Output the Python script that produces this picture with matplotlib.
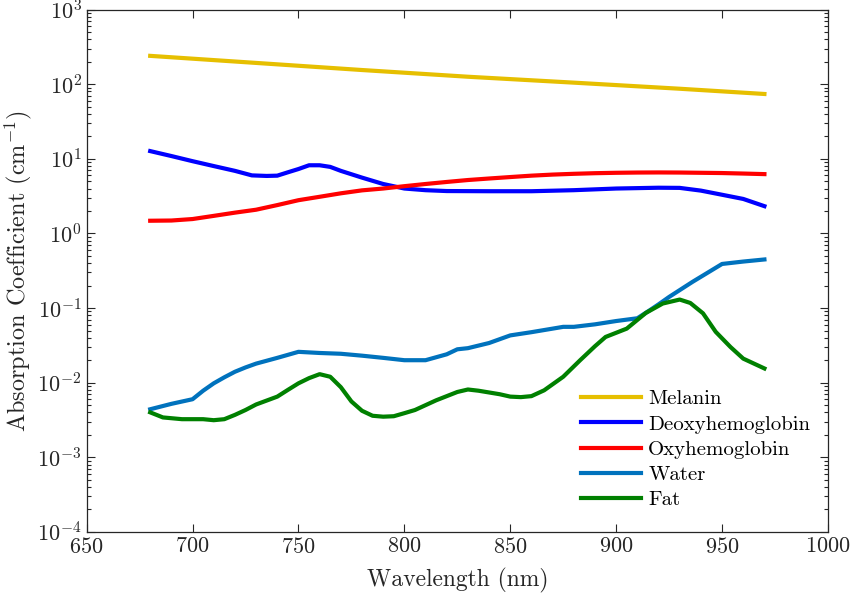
import matplotlib
matplotlib.use("Agg")
import matplotlib.pyplot as plt
from matplotlib.ticker import LogLocator, NullFormatter, MultipleLocator

plt.rcParams["font.family"] = "serif"
plt.rcParams["font.serif"] = ["cmr10", "DejaVu Serif"]
plt.rcParams["mathtext.fontset"] = "cm"
plt.rcParams["axes.formatter.use_mathtext"] = True

# Absorption spectra (cm^-1) vs wavelength (nm)
wl_melanin = [680, 730, 780, 830, 880, 930, 970]
melanin = [240, 193, 155, 126, 105, 87, 74]

wl_deoxy = [680, 690, 700, 710, 720, 728, 735, 740, 745, 750, 755, 760, 765, 770,
            780, 790, 800, 810, 820, 840, 860, 880, 900, 920, 930, 940, 950, 960, 970]
deoxy = [12.7, 10.9, 9.3, 8.0, 6.9, 6.0, 5.9, 5.95, 6.6, 7.3, 8.2, 8.2, 7.8, 6.9,
         5.6, 4.6, 4.0, 3.8, 3.7, 3.68, 3.68, 3.8, 4.0, 4.1, 4.08, 3.75, 3.3, 2.9, 2.32]

wl_oxy = [680, 690, 700, 710, 720, 730, 740, 750, 760, 770, 780, 790, 800, 810, 820,
          830, 840, 850, 860, 870, 880, 890, 900, 910, 920, 930, 940, 950, 960, 970]
oxy = [1.48, 1.49, 1.56, 1.72, 1.90, 2.08, 2.40, 2.79, 3.1, 3.45, 3.78, 4.0, 4.3, 4.6, 4.9,
       5.2, 5.45, 5.7, 5.95, 6.15, 6.3, 6.42, 6.5, 6.55, 6.57, 6.55, 6.5, 6.45, 6.35, 6.24]

wl_water = [680, 690, 700, 705, 710, 715, 720, 725, 730, 740, 750, 760, 770, 780, 790,
            800, 810, 820, 825, 830, 840, 850, 860, 870, 875, 880, 890, 900, 910, 916,
            920, 925, 930, 936, 950, 960, 970]
water = [0.0044, 0.0052, 0.0060, 0.0078, 0.0098, 0.0118, 0.0140, 0.0160, 0.0180, 0.0215,
         0.0259, 0.0250, 0.0244, 0.0230, 0.0215, 0.0200, 0.0200, 0.0240, 0.0280, 0.0290,
         0.0340, 0.0430, 0.0475, 0.0530, 0.0560, 0.0560, 0.0605, 0.0670, 0.0730, 0.0940,
         0.112, 0.141, 0.174, 0.224, 0.390, 0.420, 0.448]

wl_fat = [680, 686, 695, 705, 710, 715, 720, 725, 730, 740, 745, 750, 755, 760, 765,
          770, 775, 780, 785, 790, 795, 800, 805, 815, 825, 830, 835, 845, 850, 855,
          860, 866, 875, 883, 890, 895, 905, 914, 922, 930, 935, 941, 947, 954, 960, 970]
fat = [0.0040, 0.00342, 0.00324, 0.00324, 0.00314, 0.00324, 0.0037, 0.0043, 0.0051,
       0.0065, 0.0080, 0.0098, 0.0115, 0.0130, 0.0120, 0.0087, 0.0056, 0.0042, 0.0036,
       0.0035, 0.00355, 0.0039, 0.0043, 0.0058, 0.0075, 0.0081, 0.0078, 0.0070, 0.0065,
       0.0064, 0.0066, 0.0079, 0.0120, 0.0200, 0.0308, 0.041, 0.053, 0.086, 0.115,
       0.130, 0.117, 0.085, 0.048, 0.030, 0.021, 0.0155]

fig = plt.figure(figsize=(8.58, 6.01), dpi=100)
ax = fig.add_axes([0.101, 0.115, 0.864, 0.869])

lw = 3
ax.plot(wl_melanin, melanin, color="#e6bf00", lw=lw, label="Melanin")
ax.plot(wl_deoxy, deoxy, color="#0000ff", lw=lw, label="Deoxyhemoglobin")
ax.plot(wl_oxy, oxy, color="#ff0000", lw=lw, label="Oxyhemoglobin")
ax.plot(wl_water, water, color="#0072bd", lw=lw, label="Water")
ax.plot(wl_fat, fat, color="#008000", lw=lw, label="Fat")

ax.set_yscale("log")
ax.set_xlim(650, 1000)
ax.set_ylim(1e-4, 1e3)
ax.xaxis.set_major_locator(MultipleLocator(50))
ax.yaxis.set_major_locator(LogLocator(base=10, numticks=20))
ax.yaxis.set_minor_locator(LogLocator(base=10, subs=range(2, 10), numticks=20))
ax.yaxis.set_minor_formatter(NullFormatter())

ax.tick_params(which="both", direction="in", top=True, right=True, labelsize=16,
               width=0.8, colors="#262626")
ax.tick_params(which="major", length=6)
ax.tick_params(which="minor", length=3)
for s in ax.spines.values():
    s.set_linewidth(0.9)
    s.set_color("#262626")

ax.set_xlabel("Wavelength (nm)", fontsize=17, color="#262626", labelpad=8)
ax.set_ylabel(r"Absorption Coefficient (cm$^{-1}$)", fontsize=17.5, color="#262626",
              labelpad=2)

ax.legend(loc="lower left", bbox_to_anchor=(0.655, 0.027), frameon=False,
          fontsize=15, handlelength=2.9, handletextpad=0.35, labelspacing=0.32,
          borderaxespad=0)

fig.savefig("out.png", dpi=100)
